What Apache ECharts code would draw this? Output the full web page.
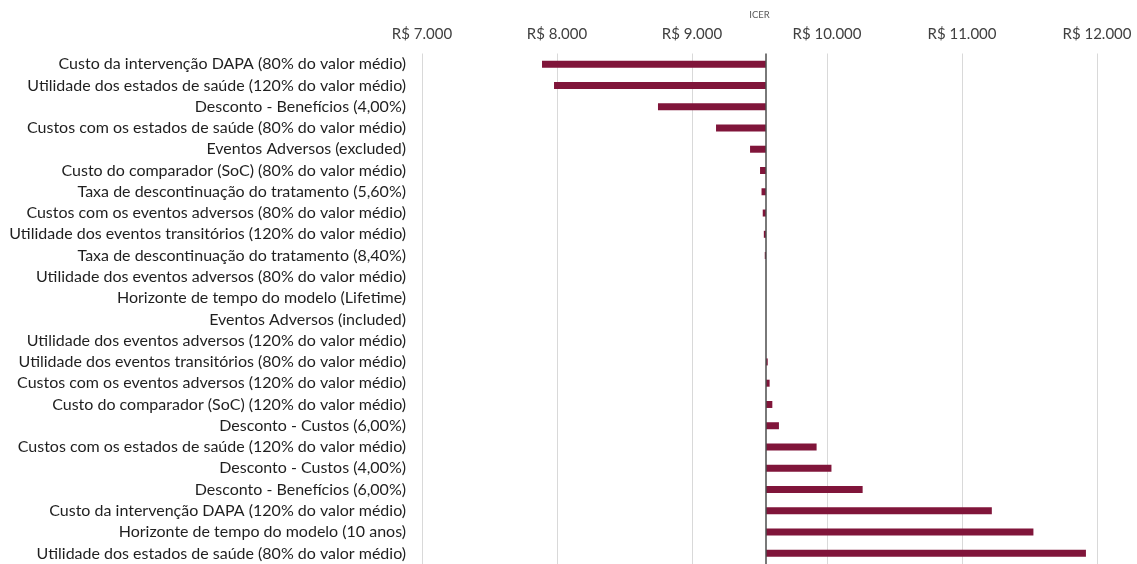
<!DOCTYPE html>
<html>
<head>
<meta charset="utf-8">
<script src="https://cdn.jsdelivr.net/npm/echarts@6/dist/echarts.min.js"></script>
<style>
html,body{margin:0;padding:0;background:#fff;}
#chart{width:1137px;height:564px;}
</style>
</head>
<body>
<div id="chart"></div>
<script>
const categories = [
  "Custo da intervenção DAPA (80% do valor médio)",
  "Utilidade dos estados de saúde (120% do valor médio)",
  "Desconto - Benefícios (4,00%)",
  "Custos com os estados de saúde (80% do valor médio)",
  "Eventos Adversos (excluded)",
  "Custo do comparador (SoC) (80% do valor médio)",
  "Taxa de descontinuação do tratamento (5,60%)",
  "Custos com os eventos adversos (80% do valor médio)",
  "Utilidade dos eventos transitórios (120% do valor médio)",
  "Taxa de descontinuação do tratamento (8,40%)",
  "Utilidade dos eventos adversos (80% do valor médio)",
  "Horizonte de tempo do modelo (Lifetime)",
  "Eventos Adversos (included)",
  "Utilidade dos eventos adversos (120% do valor médio)",
  "Utilidade dos eventos transitórios (80% do valor médio)",
  "Custos com os eventos adversos (120% do valor médio)",
  "Custo do comparador (SoC) (120% do valor médio)",
  "Desconto - Custos (6,00%)",
  "Custos com os estados de saúde (120% do valor médio)",
  "Desconto - Custos (4,00%)",
  "Desconto - Benefícios (6,00%)",
  "Custo da intervenção DAPA (120% do valor médio)",
  "Horizonte de tempo do modelo (10 anos)",
  "Utilidade dos estados de saúde (80% do valor médio)"
];
const icerValues = [7889, 7978, 8748, 9178, 9430, 9504, 9515, 9524, 9532, 9539, 9548, 9548, 9548, 9548, 9561, 9575, 9595, 9644, 9923, 10033, 10264, 11221, 11529, 11918];
const baseIcer = 9548;
const axisTicks = [7000, 8000, 9000, 10000, 11000, 12000];
const axisTitle = "ICER";

const offsetData = icerValues.map(v => Math.min(v, baseIcer));
const deltaData = icerValues.map(v => Math.abs(v - baseIcer));

function fmt(v) {
  return 'R$ ' + String(Math.round(v)).replace(/\B(?=(\d{3})+(?!\d))/g, '.');
}

const chart = echarts.init(document.getElementById('chart'), null, {renderer: 'canvas'});
chart.setOption({
  animation: false,
  backgroundColor: '#ffffff',
  grid: {left: 422, right: 40, top: 53.5, bottom: -2.5, containLabel: false},
  xAxis: {
    type: 'value',
    position: 'top',
    min: axisTicks[0],
    max: axisTicks[axisTicks.length - 1],
    interval: 1000,
    name: axisTitle,
    nameLocation: 'middle',
    nameGap: 34,
    nameTextStyle: {color: '#595959', fontFamily: 'Lato', fontSize: 9.5},
    axisLine: {show: false},
    axisTick: {show: false},
    axisLabel: {
      formatter: fmt,
      color: '#404040',
      fontFamily: 'Lato',
      fontSize: 15,
      margin: 12
    },
    splitLine: {show: true, lineStyle: {color: '#d9d9d9', width: 1}}
  },
  yAxis: {
    type: 'category',
    data: categories,
    inverse: true,
    axisLine: {show: false},
    axisTick: {show: false},
    splitLine: {show: false},
    axisLabel: {
      color: '#1f1f1f',
      fontFamily: 'Lato',
      fontSize: 16,
      margin: 16
    }
  },
  series: [
    {
      type: 'bar',
      stack: 'tornado',
      data: offsetData,
      barWidth: 7,
      itemStyle: {color: 'transparent'},
      silent: true
    },
    {
      type: 'bar',
      stack: 'tornado',
      data: deltaData,
      barWidth: 7,
      itemStyle: {color: '#80153a'},
      markLine: {
        silent: true,
        symbol: 'none',
        label: {show: false},
        lineStyle: {color: '#4d4d4d', width: 1.5, type: 'solid'},
        data: [{xAxis: baseIcer}]
      }
    }
  ]
});
</script>
</body>
</html>
